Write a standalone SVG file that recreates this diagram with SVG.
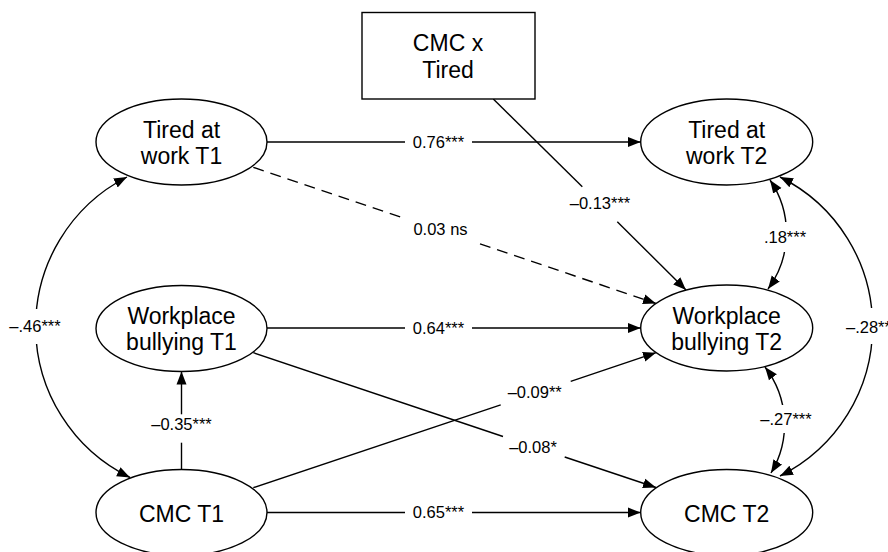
<svg xmlns="http://www.w3.org/2000/svg" width="888" height="552" viewBox="0 0 888 552">
<style>
  .node { fill: #fff; stroke: #000; stroke-width: 1.4; }
  .nt { font-family: "Liberation Sans", Arial, Helvetica, sans-serif; font-size: 23px; fill: #000; text-anchor: middle; }
  .edge { fill: none; stroke: #000; stroke-width: 1.4; }
  .dash { stroke-dasharray: 11 7; }
  .lbl { font-family: "Liberation Sans", Arial, Helvetica, sans-serif; font-size: 16.5px; fill: #000; text-anchor: middle; }
  .bg { fill: #fff; stroke: none; }
</style>
<defs>
  <marker id="arr" markerUnits="userSpaceOnUse" markerWidth="14" markerHeight="11" refX="13" refY="5" orient="auto-start-reverse" viewBox="0 0 14 10">
    <path d="M0,0 L13,5 L0,10 z" fill="#000"/>
  </marker>
</defs>
<rect width="888" height="552" fill="#fff"/>

<g id="connectors">
  <!-- Tired T1 -> Tired T2 -->
  <path class="edge" d="M267,142 H405"/>
  <path class="edge" d="M472,142 H640.7" marker-end="url(#arr)"/>
  <!-- WB T1 -> WB T2 -->
  <path class="edge" d="M267,328 H405"/>
  <path class="edge" d="M472,328 H640.7" marker-end="url(#arr)"/>
  <!-- CMC T1 -> CMC T2 -->
  <path class="edge" d="M267,512.5 H405"/>
  <path class="edge" d="M472,512.5 H640.7" marker-end="url(#arr)"/>
  <!-- Tired T1 -> WB T2 (dashed) -->
  <path class="edge dash" d="M253.3,167.3 L405,218.5"/>
  <path class="edge dash" d="M480,243.8 L656,303.5" marker-end="url(#arr)"/>
  <!-- CMC x Tired -> WB T2 -->
  <path class="edge" d="M493.3,99 L582.3,186.7"/>
  <path class="edge" d="M617.3,221.7 L686,290" marker-end="url(#arr)"/>
  <!-- WB T1 -> CMC T2 -->
  <path class="edge" d="M253.3,352.7 L503,436.5"/>
  <path class="edge" d="M564.7,457 L656,487.5" marker-end="url(#arr)"/>
  <!-- CMC T1 -> WB T2 -->
  <path class="edge" d="M253.3,487.7 L500.7,404.8"/>
  <path class="edge" d="M570.7,381.4 L656,352.7" marker-end="url(#arr)"/>
  <!-- CMC T1 -> WB T1 -->
  <path class="edge" d="M181.5,469 V442.7"/>
  <path class="edge" d="M181.5,414.3 V371.5" marker-end="url(#arr)"/>
  <!-- Correlations -->
  <path class="edge" d="M127,177 A168,168 0 0 0 130,477.5" marker-start="url(#arr)" marker-end="url(#arr)"/>
  <path class="edge" d="M780,177 A167,167 0 0 1 780,476" marker-start="url(#arr)" marker-end="url(#arr)"/>
  <path class="edge" d="M770,180 A94,94 0 0 1 768,289" marker-start="url(#arr)" marker-end="url(#arr)"/>
  <path class="edge" d="M765,367 A94,94 0 0 1 771,473" marker-start="url(#arr)" marker-end="url(#arr)"/>

  <!-- labels -->
  <text class="lbl" x="438.5" y="147.5">0.76***</text>
  <text class="lbl" x="438.5" y="333.5">0.64***</text>
  <text class="lbl" x="438.5" y="518">0.65***</text>
  <text class="lbl" x="440.5" y="235">0.03 ns</text>
  <text class="lbl" x="600" y="209">–0.13***</text>
  <text class="lbl" x="533" y="452.7">–0.08*</text>
  <text class="lbl" x="534.7" y="397.7">–0.09**</text>
  <text class="lbl" x="181.5" y="430">–0.35***</text>
  <rect class="bg" x="7" y="309" width="56" height="35"/>
  <text class="lbl" x="35" y="332">–.46***</text>
  <rect class="bg" x="844" y="308" width="44" height="36"/>
  <text class="lbl" x="846" y="332.7" style="text-anchor:start">–.28**</text>
  <rect class="bg" x="762" y="222" width="46" height="30"/>
  <text class="lbl" x="785" y="243">.18***</text>
  <rect class="bg" x="758" y="405" width="55" height="28"/>
  <text class="lbl" x="786" y="425">–.27***</text>
</g>

<g id="cmc_x_tired">
  <rect class="node" x="362" y="12.5" width="173" height="86.5"/>
  <text class="nt" x="448" y="51">CMC x</text>
  <text class="nt" x="448" y="77.7">Tired</text>
</g>
<g id="tired_t1">
  <ellipse class="node" cx="181.5" cy="142" rx="85.5" ry="43"/>
  <text class="nt" x="181.5" y="137.7">Tired at</text>
  <text class="nt" x="181.5" y="164">work T1</text>
</g>
<g id="tired_t2">
  <ellipse class="node" cx="726.7" cy="142" rx="86" ry="43"/>
  <text class="nt" x="726.7" y="137.7">Tired at</text>
  <text class="nt" x="726.7" y="164">work T2</text>
</g>
<g id="bullying_t1">
  <ellipse class="node" cx="181.5" cy="328.5" rx="85.5" ry="43"/>
  <text class="nt" x="181.5" y="324">Workplace</text>
  <text class="nt" x="181.5" y="350">bullying T1</text>
</g>
<g id="bullying_t2">
  <ellipse class="node" cx="726.7" cy="328" rx="86" ry="43"/>
  <text class="nt" x="726.7" y="323.5">Workplace</text>
  <text class="nt" x="726.7" y="349.5">bullying T2</text>
</g>
<g id="cmc_t1">
  <ellipse class="node" cx="181.5" cy="512.5" rx="85.5" ry="43"/>
  <text class="nt" x="181.5" y="522">CMC T1</text>
</g>
<g id="cmc_t2">
  <ellipse class="node" cx="726.7" cy="512.5" rx="86" ry="43"/>
  <text class="nt" x="726.7" y="522">CMC T2</text>
</g>
</svg>
